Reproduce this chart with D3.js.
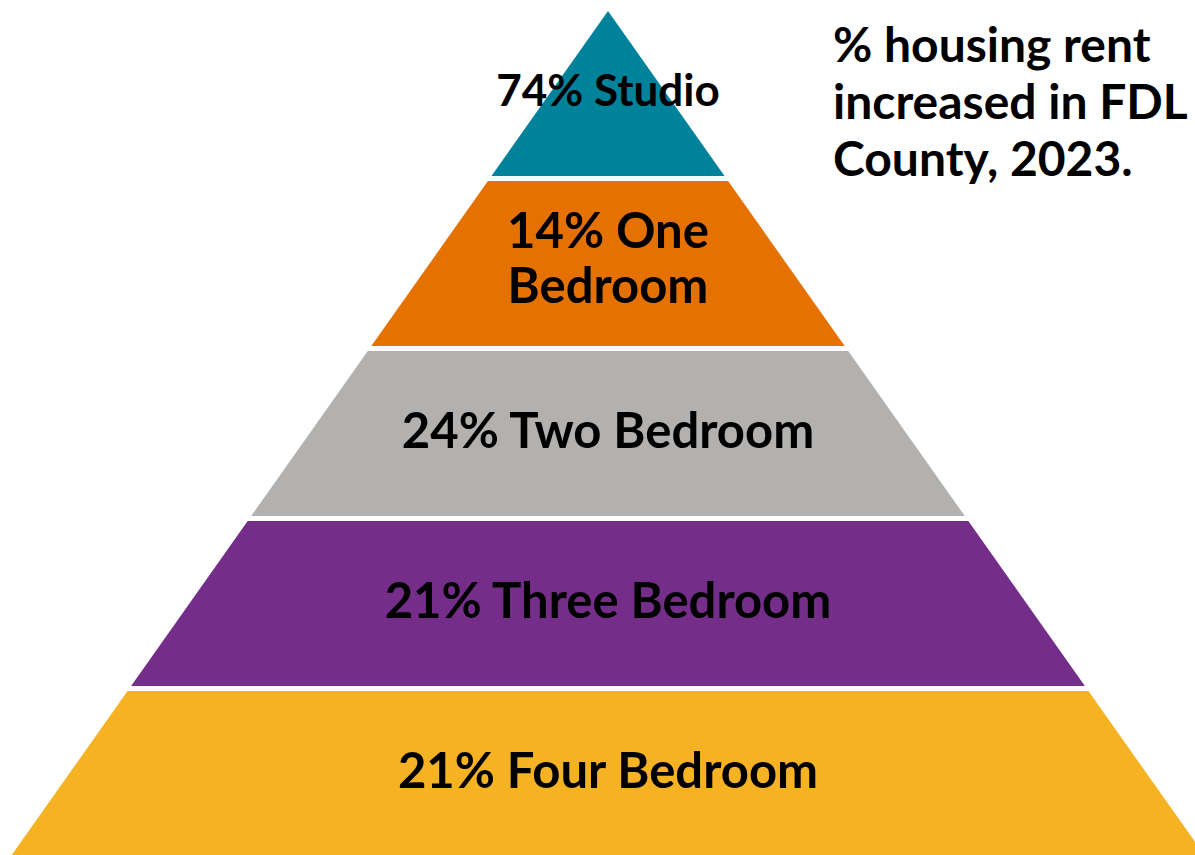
<!doctype html>
<html lang="en">
<head>
    <meta charset="UTF-8">
    <title>Housing rent increase pyramid</title>
    <script src="https://d3js.org/d3.v7.min.js"></script>
    <style>
        html, body { margin: 0; padding: 0; background: #ffffff; }
        svg { display: block; }
        text { font-family: Lato, "Open Sans", sans-serif; font-weight: 700; fill: #000; }
    </style>
</head>
<body>
<div id="chart"></div>
<script>
    //chart data, top of the pyramid first
    const categories = ["Studio", "One Bedroom", "Two Bedroom", "Three Bedroom", "Four Bedroom"];
    const pctIncrease = [74, 14, 24, 21, 21];
    const bandColors = ["#00829b", "#e57200", "#b2b1af", "#742e89", "#f5b223"];
    // labels that break onto two lines (word count on the first line)
    const breakAfterWords = [0, 2, 0, 0, 0];
    const titleLines = ["% housing rent", "increased in FDL", "County, 2023."];

    const width = 1195, height = 855;
    const cx = 608, apexY = 11, baseY = 856, baseHalf = 597;

    let svg = d3.select("#chart").append("svg")
        .attr("width", width)
        .attr("height", height);

    //one band per category, with a thin white gap between them
    let y = d3.scaleBand()
        .domain(categories)
        .range([apexY, baseY])
        .paddingInner(5 / 170)
        .paddingOuter(0);

    //half width of the pyramid at a given height
    let half = d3.scaleLinear()
        .domain([apexY, baseY])
        .range([0, baseHalf]);

    let line = d3.line();

    let bands = svg.selectAll("g.band")
        .data(categories)
        .enter()
        .append("g")
        .attr("class", "band");

    bands.append("path")
        .attr("d", function (d) {
            let y0 = y(d), y1 = y(d) + y.bandwidth();
            return line([
                [cx - half(y0), y0],
                [cx + half(y0), y0],
                [cx + half(y1), y1],
                [cx - half(y1), y1]
            ]) + "Z";
        })
        .attr("fill", function (d, i) { return bandColors[i]; });

    //labels
    bands.each(function (d, i) {
        let words = (pctIncrease[i] + "% " + d).split(" ");
        let lines = breakAfterWords[i] ?
            [words.slice(0, breakAfterWords[i]).join(" "), words.slice(breakAfterWords[i]).join(" ")] :
            [words.join(" ")];
        let size = i === 0 ? 44 : 49;
        let pitch = 55;
        let cap = size * 0.72;
        let mid = y(d) + y.bandwidth() / 2;
        let first = mid - (lines.length - 1) * pitch / 2 + cap / 2 - (lines.length > 1 ? 6 : 3);

        let t = d3.select(this).append("text")
            .attr("text-anchor", "middle")
            .attr("font-size", size);
        lines.forEach(function (l, k) {
            t.append("tspan")
                .attr("x", cx)
                .attr("y", first + k * pitch)
                .text(l);
        });
    });

    //title in the top right corner
    svg.append("text")
        .attr("font-size", 48)
        .selectAll("tspan")
        .data(titleLines)
        .enter()
        .append("tspan")
        .attr("x", 833)
        .attr("y", function (d, i) { return 62 + i * 57; })
        .text(function (d) { return d; });
</script>
</body>
</html>
